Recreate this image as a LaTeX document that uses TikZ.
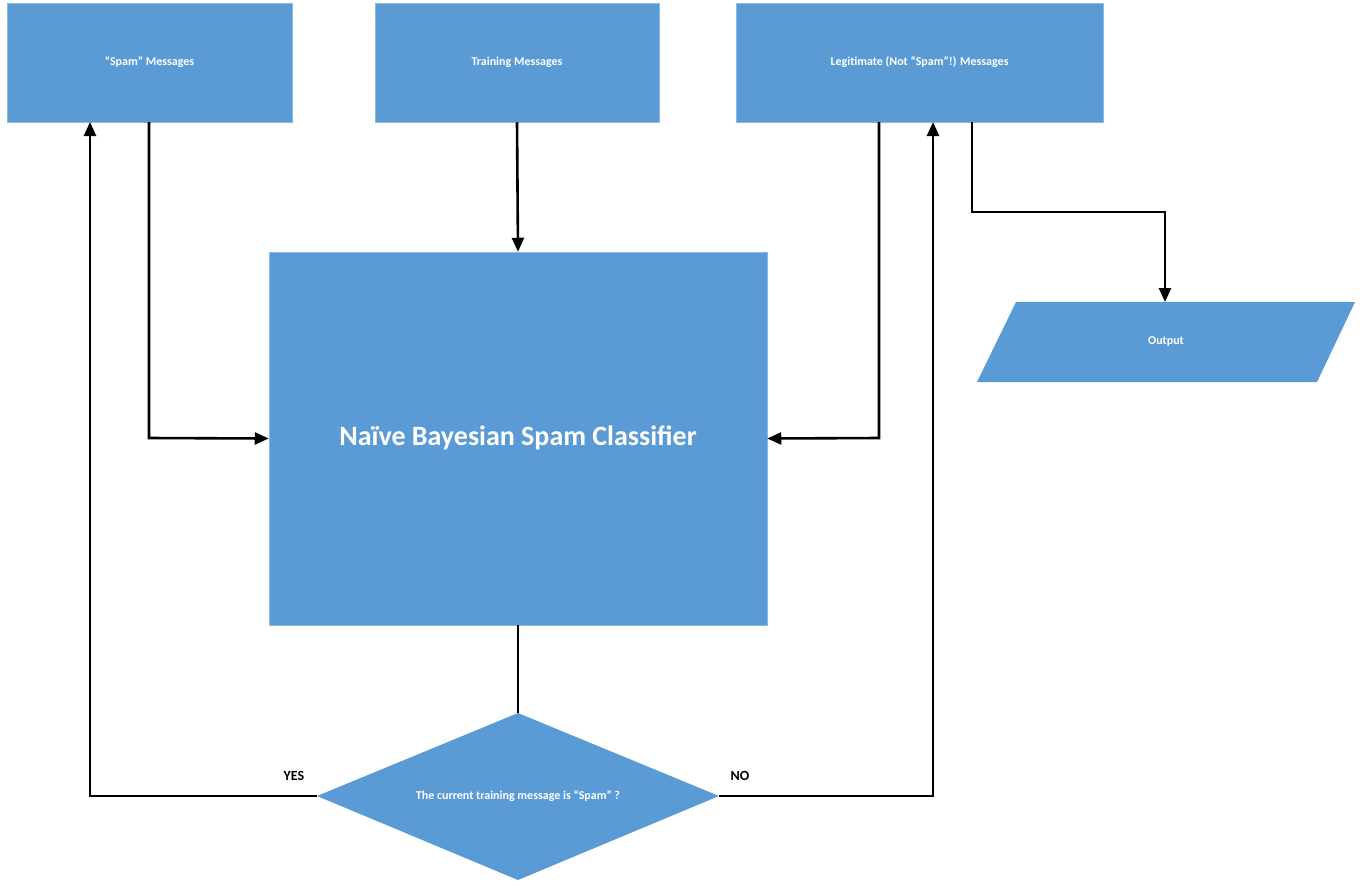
\documentclass[tikz,border=0pt]{standalone}
\usepackage{fontspec}
\setmainfont{Carlito}
\usetikzlibrary{shapes.geometric,arrows.meta}
\definecolor{bx}{HTML}{5B9BD5}
\begin{document}
\begin{tikzpicture}[x=1pt,y=-1pt,
  box/.style={fill=bx,draw=bx!70!white,line width=0.5pt,text=white,font=\bfseries\fontsize{12}{14}\selectfont},
  ln/.style={line width=2.6pt,black},
  ar/.style={ln,-{Triangle[length=14pt,width=12pt]}},
  lab/.style={font=\bfseries\fontsize{14}{16}\selectfont}]
\useasboundingbox (0,0) rectangle (1364,892);
\node[box,minimum width=285,minimum height=119,inner sep=0] (spam) at (149.5,62.5) {“Spam” Messages};
\node[box,minimum width=284,minimum height=119,inner sep=0] (train) at (517,62.5) {Training Messages};
\node[box,minimum width=367,minimum height=119,inner sep=0] (legit) at (919.5,62.5) {Legitimate (Not “Spam”!) Messages};
\node[box,minimum width=498,minimum height=373,inner sep=0,font=\bfseries\fontsize{28}{32}\selectfont] (cls) at (518,438.5) {};
\node[text=white,font=\bfseries\fontsize{28}{32}\selectfont] (clst) at (518,438) {Naïve Bayesian Spam Classifier};
\path[fill=bx] (1016,302) -- (1355,302) -- (1317,382) -- (977,382) -- cycle;
\node[box,fill=none,draw=none] (out) at (1166,342) {Output};
\path[fill=bx] (518,713) -- (719,796) -- (518,880) -- (317,796) -- cycle;
\coordinate (dt) at (518,713); \coordinate (dl) at (317,796); \coordinate (dr) at (719,796);
\node[box,fill=none,draw=none] (dia) at (518,796) {The current training message is “Spam” ?};
\draw[ar] (149,122) -- (149,438) -- (cls.west);
\draw[ar] (train.south) -- (cls.north);
\draw[ar] (879,122) -- (879,438) -- (cls.east);
\draw[ar] (972,122) -- (972,212) -- (1165,212) -- (1165,302);
\draw[ln] (cls.south) -- (dt);
\draw[ar] (dl) -- (90,796) -- (90,122);
\draw[ar] (dr) -- (933,796) -- (933,122);
\node[lab] (yes) at (294,776) {YES};
\node[lab] (no) at (740,776) {NO};
\end{tikzpicture}
\end{document}
